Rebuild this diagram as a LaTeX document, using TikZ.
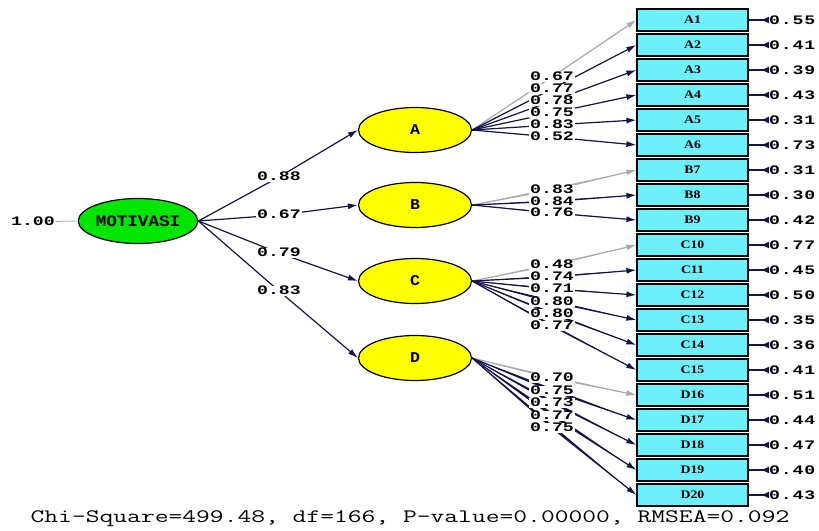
\documentclass[tikz,border=0pt]{standalone}
\usepackage{fontspec}
\usetikzlibrary{arrows.meta,shapes.geometric}
\newfontfamily\lismono[FakeStretch=1.4]{Liberation Mono}
\newfontfamily\errmono[FakeStretch=1.4,LetterSpace=6]{Liberation Mono}
\newfontfamily\lvfont[FakeStretch=1.1]{Liberation Mono}
\newfontfamily\obsfont[FakeStretch=1.2]{Liberation Serif}
\definecolor{lvgreen}{RGB}{0,230,0}
\definecolor{lvyellow}{RGB}{255,255,0}
\definecolor{obscyan}{RGB}{110,240,250}
\definecolor{pathblue}{RGB}{20,20,75}
\definecolor{fixgray}{RGB}{170,170,170}

\tikzset{
  latent/.style={ellipse,draw,line width=1.2pt,minimum width=113pt,minimum height=45pt,inner sep=0pt,
    font=\lvfont\bfseries\fontsize{16}{16}\selectfont},
  obs/.style={rectangle,draw,line width=1.2pt,fill=obscyan,minimum width=111pt,minimum height=22pt,inner sep=0pt,
    font=\obsfont\bfseries\fontsize{11.5}{11.5}\selectfont},
  load/.style={fill=white,inner sep=0.8pt,text height=7.5pt,text depth=0pt,
    font=\lismono\bfseries\fontsize{13}{13}\selectfont},
  errval/.style={anchor=west,inner sep=0pt,font=\errmono\bfseries\fontsize{13}{13}\selectfont},
  path/.style={draw=pathblue,line width=1.2pt,-{Latex[length=10pt,width=6pt]}},
  errpath/.style={draw=pathblue,line width=1.4pt,-{Latex[length=8pt,width=7pt,reversed]}},
}

\begin{document}
\begin{tikzpicture}[x=1pt,y=-1pt]
\useasboundingbox (0,0) rectangle (819,530);
% latent variables
\node[latent,fill=lvgreen] (mot) at (138,221) {MOTIVASI};
\node[latent,fill=lvyellow,font=\lvfont\bfseries\fontsize{15}{15}\selectfont] (A) at (415,130) {A};
\node[latent,fill=lvyellow,font=\lvfont\bfseries\fontsize{15}{15}\selectfont] (B) at (415,205) {B};
\node[latent,fill=lvyellow,font=\lvfont\bfseries\fontsize{15}{15}\selectfont] (C) at (415,281) {C};
\node[latent,fill=lvyellow,font=\lvfont\bfseries\fontsize{15}{15}\selectfont] (D) at (415,358) {D};
\node[load] (var) at (33,222) {1.00};
\draw[fixgray,line width=0.8pt] (var) -- (mot.west);
% indicators and error variances
\foreach \k/\nm/\e in {1/A1/0.55,2/A2/0.41,3/A3/0.39,4/A4/0.43,5/A5/0.31,6/A6/0.73,
    7/B7/0.31,8/B8/0.30,9/B9/0.42,10/C10/0.77,11/C11/0.45,12/C12/0.50,13/C13/0.35,
    14/C14/0.36,15/C15/0.41,16/D16/0.51,17/D17/0.44,18/D18/0.47,19/D19/0.40,20/D20/0.43}{
  \node[obs] (\nm) at (692.5,{20+25*(\k-1)}) {\nm};
  \node[errval] (e\nm) at (769,{20+25*(\k-1)}) {\e};
  \draw[errpath] (\nm.east) -- (e\nm.west);
}
% second order loadings
\foreach \lv/\v/\ly in {A/0.88/177,B/0.67/215,C/0.79/253,D/0.83/291}{
  \coordinate (p\lv) at (279,\ly);
  \draw[path] (mot.east) -- (p\lv) -- (\lv.west);
  \node[load] at (p\lv) {\v};
}
% first order loadings
\foreach \lv/\nm/\ly/\col in {A/A1/77/fixgray,A/A2/89/pathblue,A/A3/101/pathblue,
    A/A4/113/pathblue,A/A5/125/pathblue,A/A6/137/pathblue,
    B/B7/190/fixgray,B/B8/201.5/pathblue,B/B9/213/pathblue,
    C/C10/265/fixgray,C/C11/277/pathblue,C/C12/289/pathblue,
    C/C13/302/pathblue,C/C14/314/pathblue,C/C15/326/pathblue,
    D/D16/378/fixgray,D/D17/391/pathblue,D/D18/403/pathblue,
    D/D19/416/pathblue,D/D20/428/pathblue}{
  \coordinate (q\nm) at (552,\ly);
  \draw[path,draw=\col,fill=\col] (\lv.east) -- (q\nm) -- (\nm.west);
}
\foreach \nm/\v in {A1/0.67,A2/0.77,A3/0.78,A4/0.75,A5/0.83,A6/0.52,B7/0.83,B8/0.84,B9/0.76,
    C10/0.48,C11/0.74,C12/0.71,C13/0.80,C14/0.80,C15/0.77,D16/0.70,D17/0.75,D18/0.73,D19/0.77,D20/0.75}
  \node[load] at (q\nm) {\v};
% fit statistics
\node (fit) at (410,519) {\scalebox{1.41}[1]{\ttfamily\fontsize{19}{19}\selectfont
  Chi-Square=499.48, df=166, P-value=0.00000, RMSEA=0.092}};
\end{tikzpicture}
\end{document}
